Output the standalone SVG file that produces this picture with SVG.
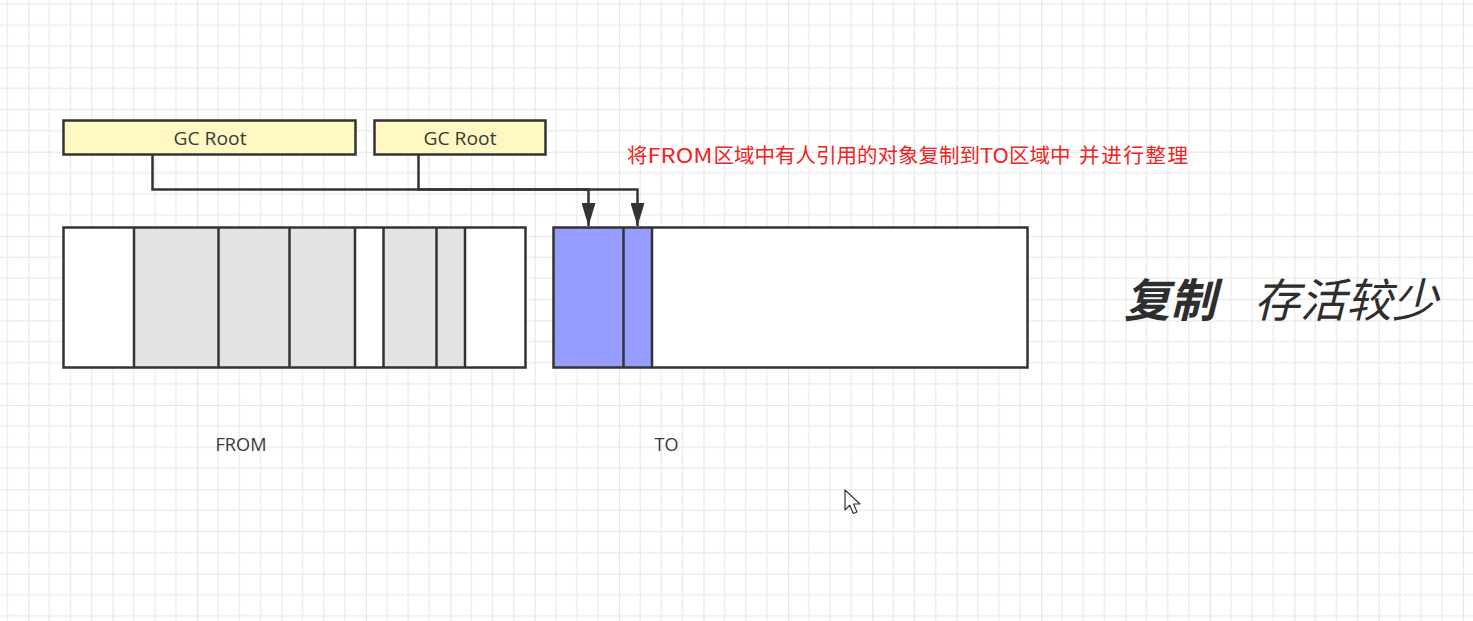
<svg xmlns="http://www.w3.org/2000/svg" width="1473" height="621" viewBox="0 0 1473 621">
  <style>
    .box { stroke: #333333; stroke-width: 2.5; }
    .root { fill: #fff8c2; }
    .gray { fill: #e3e3e3; }
    .white { fill: #ffffff; }
    .blue { fill: #979cff; }
    .lbl { font-family: "Open Sans", "Liberation Sans", sans-serif; fill: #3a3a3a; }
    .conn { fill: none; stroke: #333333; stroke-width: 2.5; }
    .cjk { font-family: "Noto Sans CJK SC", "Noto Sans", sans-serif; }
  </style>
  <defs>
    <pattern id="grid" patternUnits="userSpaceOnUse" x="28.3" y="67.3" width="84.4" height="84.4">
      <rect x="0" y="0" width="84.4" height="84.4" fill="#ffffff"/>
      <g stroke="#ededed" stroke-width="1.5">
        <line x1="21.1" y1="0" x2="21.1" y2="84.4"/>
        <line x1="42.2" y1="0" x2="42.2" y2="84.4"/>
        <line x1="63.3" y1="0" x2="63.3" y2="84.4"/>
        <line x1="0" y1="21.1" x2="84.4" y2="21.1"/>
        <line x1="0" y1="42.2" x2="84.4" y2="42.2"/>
        <line x1="0" y1="63.3" x2="84.4" y2="63.3"/>
      </g>
      <g stroke="#e4e4e4" stroke-width="2">
        <line x1="0" y1="0" x2="0" y2="84.4"/>
        <line x1="0" y1="0" x2="84.4" y2="0"/>
      </g>
    </pattern>
    <marker id="arrow" markerUnits="userSpaceOnUse" viewBox="0 0 23 14" refX="23" refY="7" markerWidth="23" markerHeight="14" orient="auto">
      <path d="M0,0 L23,7 L0,14 Z" fill="#333333"/>
    </marker>
  </defs>

  <rect x="0" y="0" width="1473" height="621" fill="url(#grid)"/>

  <g id="gcroot1">
    <rect class="box root" x="63.5" y="120.5" width="292" height="34"/>
    <text class="lbl" x="210" y="145" font-size="18" text-anchor="middle" textLength="73" lengthAdjust="spacingAndGlyphs">GC Root</text>
  </g>
  <g id="gcroot2">
    <rect class="box root" x="374.5" y="120.5" width="171" height="34"/>
    <text class="lbl" x="460" y="145" font-size="18" text-anchor="middle" textLength="73" lengthAdjust="spacingAndGlyphs">GC Root</text>
  </g>

  <g id="from">
    <rect class="white" x="63.5" y="227.5" width="462" height="140"/>
    <rect class="gray" x="134" y="227.5" width="221" height="140"/>
    <rect class="gray" x="383.5" y="227.5" width="81.5" height="140"/>
    <g stroke="#333333" stroke-width="2.5">
      <line x1="134" y1="227.5" x2="134" y2="367.5"/>
      <line x1="218.5" y1="227.5" x2="218.5" y2="367.5"/>
      <line x1="289.5" y1="227.5" x2="289.5" y2="367.5"/>
      <line x1="355" y1="227.5" x2="355" y2="367.5"/>
      <line x1="383.5" y1="227.5" x2="383.5" y2="367.5"/>
      <line x1="436.5" y1="227.5" x2="436.5" y2="367.5"/>
      <line x1="465" y1="227.5" x2="465" y2="367.5"/>
    </g>
    <rect class="box" fill="none" x="63.5" y="227.5" width="462" height="140"/>
    <text class="lbl" x="241" y="451" font-size="17.5" text-anchor="middle" textLength="51" lengthAdjust="spacingAndGlyphs">FROM</text>
  </g>

  <g id="to">
    <rect class="white" x="553.5" y="227.5" width="474" height="140"/>
    <rect class="blue" x="553.5" y="227.5" width="98.5" height="140"/>
    <g stroke="#333333" stroke-width="2.5">
      <line x1="623.5" y1="227.5" x2="623.5" y2="367.5"/>
      <line x1="652" y1="227.5" x2="652" y2="367.5"/>
    </g>
    <rect class="box" fill="none" x="553.5" y="227.5" width="474" height="140"/>
    <text class="lbl" x="666.5" y="451" font-size="17.5" text-anchor="middle" textLength="24" lengthAdjust="spacingAndGlyphs">TO</text>
  </g>

  <g id="connectors">
    <path class="conn" d="M152.5,155 V189.5 H637.5 V226" marker-end="url(#arrow)"/>
    <path class="conn" d="M418.5,155 V189.5 H588.5 V226" marker-end="url(#arrow)"/>
  </g>

  <g id="note">
    <text class="cjk" y="163" font-size="20.5" fill="#ee2424"><tspan x="627">将</tspan><tspan x="647.5" textLength="65" lengthAdjust="spacingAndGlyphs">FROM</tspan><tspan x="713.5">区域中有人引用的对象复制到</tspan><tspan x="980" textLength="29" lengthAdjust="spacingAndGlyphs">TO</tspan><tspan x="1009">区域中</tspan><tspan x="1079" textLength="109" lengthAdjust="spacing">并进行整理</tspan></text>
  </g>

  <g id="title">
    <text class="cjk" x="1124" y="317" font-size="46" font-weight="bold" font-style="italic" fill="#2e2e2e">复制</text>
    <text class="cjk" x="1254" y="317" font-size="46" font-style="italic" fill="#2e2e2e">存活较少</text>
  </g>

  <g id="cursor">
    <path d="M845,490 V510 L849.8,505.3 L853.3,513.5 L857,512 L853.6,504 L860,504 Z" fill="#ffffff" stroke="#333333" stroke-width="1.2" stroke-linejoin="round"/>
  </g>
</svg>
